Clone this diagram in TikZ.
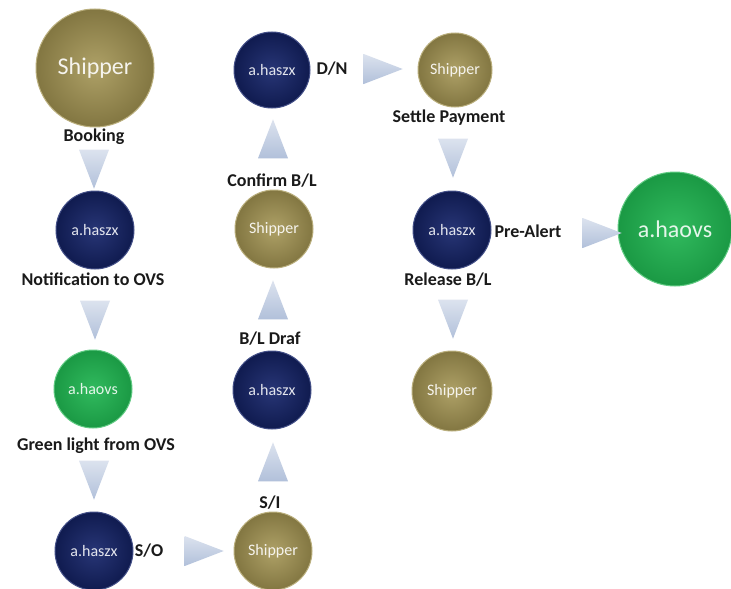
\documentclass[tikz,border=0pt]{standalone}
\usepackage{fontspec}
\setmainfont{Carlito}
\usetikzlibrary{shapes.geometric}
\definecolor{shipper color}{HTML}{A39452}
\definecolor{haszx color}{HTML}{15246A}
\definecolor{haovs color}{HTML}{1FB450}
\definecolor{arrow color}{HTML}{B1C0DA}
\definecolor{label color}{HTML}{1A1A1A}
\tikzset{
    x={1pt},
    y={-1pt},
    station/.style={
        circle,
        inner sep=0pt, outer sep=0pt,
        minimum size={#1},
        line width={1pt},
        shading=radial,
        font={\fontsize{16}{18}\selectfont},
    },
    station/.default={78},
    large text/.style={
        font={\fontsize{24}{28}\selectfont},
    },
    shipper/.style={
        station={#1},
        inner color={shipper color!88!white},
        outer color={shipper color!80!black},
        draw={shipper color!75!white},
        text={white!90!shipper color},
    },
    shipper/.default={78},
    haszx/.style={
        station={#1},
        inner color={haszx color!92!white},
        outer color={haszx color!75!black},
        draw={haszx color!80!white},
        text={white!88!haszx color},
    },
    haszx/.default={78},
    haovs/.style={
        station={#1},
        inner color={haovs color!92!white},
        outer color={haovs color!85!black},
        draw={haovs color!70!white},
        text={white!88!haovs color},
    },
    haovs/.default={78},
    flow arrow/.style={
        isosceles triangle,
        isosceles triangle stretches,
        inner sep=0pt, outer sep=0pt,
        minimum width={30},
        minimum height={39},
        top color={arrow color!45!white},
        bottom color={arrow color},
    },
    flow label/.style={
        font={\bfseries\fontsize{18}{20}\selectfont},
        text={label color},
        inner sep=0pt,
        text height={12pt},
        text depth={3pt},
    },
}

\begin{document}
\begin{tikzpicture}
% background
\useasboundingbox[fill=white] (0,0) rectangle (731,589);
% stations
\node[shipper={118}, large text] (shipper1) at (95,68) {Shipper};
\node[haszx] (haszx1) at (95,230) {a.haszx};
\node[haovs] (haovs1) at (93,389) {a.haovs};
\node[haszx] (haszx2) at (94,551) {a.haszx};
\node[shipper] (shipper2) at (273,551) {Shipper};
\node[haszx] (haszx3) at (272,390) {a.haszx};
\node[shipper] (shipper3) at (274,229) {Shipper};
\node[haszx={76}] (haszx4) at (272,70) {a.haszx};
\node[shipper={74}] (shipper4) at (455,70) {Shipper};
\node[haszx] (haszx5) at (452,230) {a.haszx};
\node[shipper={80}] (shipper5) at (452,391) {Shipper};
\node[haovs={114}, large text] (haovs2) at (675,229) {a.haovs};
% steps
\node[flow arrow, rotate=-90] (booking arrow) at (94,160) {};
\node[flow arrow, rotate=-90] (notification arrow) at (95,311) {};
\node[flow arrow, rotate=-90] (green light arrow) at (94,471) {};
\node[flow arrow] (so arrow) at (195,551) {};
\node[flow arrow, rotate=90] (si arrow) at (273,471) {};
\node[flow arrow, rotate=90] (draft arrow) at (273,309) {};
\node[flow arrow, rotate=90] (confirm arrow) at (273,148) {};
\node[flow arrow] (dn arrow) at (374,69) {};
\node[flow arrow, rotate=-90] (payment arrow) at (453,149) {};
\node[flow arrow] (prealert arrow) at (593,233) {};
\node[flow arrow, rotate=-90] (release arrow) at (453,310) {};
% labels
\node[flow label] (booking) at (94,137) {Booking};
\node[flow label] (notification) at (93,281) {Notification to OVS};
\node[flow label] (green light) at (96,446) {Green light from OVS};
\node[flow label] (so) at (149,552) {S/O};
\node[flow label] (si) at (270,504) {S/I};
\node[flow label] (draft) at (270,340) {B/L Draf};
\node[flow label] (confirm) at (272,182) {Confirm B/L};
\node[flow label] (dn) at (332,70) {D/N};
\node[flow label] (payment) at (449,118) {Settle Payment};
\node[flow label] (prealert) at (528,233) {Pre-Alert};
\node[flow label] (release) at (448,281) {Release B/L};
\end{tikzpicture}
\end{document}
